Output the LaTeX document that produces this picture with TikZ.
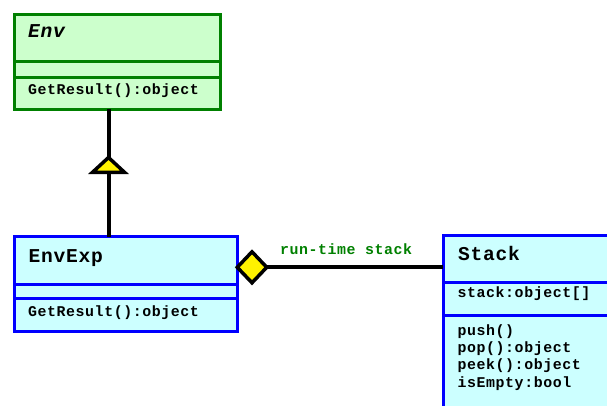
\documentclass[tikz,border=0pt]{standalone}
\usepackage{fontspec}
\setmonofont{Liberation Mono}
\newfontfamily\membermono[LetterSpace=3.8]{Liberation Mono}
\usetikzlibrary{shapes.geometric}

\definecolor{envgreen}{RGB}{0,128,0}
\definecolor{envgreenfill}{RGB}{204,255,204}
\definecolor{expblue}{RGB}{0,0,255}
\definecolor{expbluefill}{RGB}{204,255,255}

\tikzset{
  classbox/.style={draw, line width=3pt, inner sep=0pt, outer sep=0pt, anchor=north west},
  greenbox/.style={classbox, draw=envgreen, fill=envgreenfill},
  bluebox/.style={classbox, draw=expblue, fill=expbluefill},
  classname/.style={inner sep=0pt, anchor=base west, font=\membermono\bfseries\fontsize{19.6}{22}\selectfont},
  member/.style={inner sep=0pt, anchor=base west, font=\membermono\bfseries\fontsize{14.9}{17.4}\selectfont},
  assoc/.style={line width=4pt, draw=black},
  marker/.style={draw=black, fill=yellow, line width=3.5pt, line join=miter},
}

\begin{document}
\begin{tikzpicture}[x=1pt, y=-1pt]
  \path[use as bounding box] (0,0) rectangle (607,406);
  \clip (0,0) rectangle (607,406);

  % Env (abstract base)
  \node[greenbox, minimum width=206.3pt, minimum height=95.1pt] (env) at (14.2,14.2) {};
  \draw[envgreen, line width=3pt] (env.west |- 0,61.5) -- (env.east |- 0,61.5);
  \draw[envgreen, line width=3pt] (env.west |- 0,77.3) -- (env.east |- 0,77.3);
  \node[classname] (envname) at (28,37.3) {\textit{Env}};
  \node[member] (envop) at (28,94.3) {GetResult():object};

  % EnvExp
  \node[bluebox, minimum width=223pt, minimum height=94.7pt] (envexp) at (14.2,236.5) {};
  \draw[expblue, line width=3pt] (envexp.west |- 0,284) -- (envexp.east |- 0,284);
  \draw[expblue, line width=3pt] (envexp.west |- 0,298.7) -- (envexp.east |- 0,298.7);
  \node[classname] (expname) at (28.5,262.3) {EnvExp};
  \node[member] (expop) at (28,316.9) {GetResult():object};

  % Stack (runs past the right and lower edges)
  \node[bluebox, minimum width=220pt, minimum height=200pt] (stack) at (443.3,235) {};
  \draw[expblue, line width=3pt] (stack.west |- 0,282.7) -- (stack.east |- 0,282.7);
  \draw[expblue, line width=3pt] (stack.west |- 0,315) -- (stack.east |- 0,315);
  \node[classname] (stackname) at (458,260.7) {Stack};
  \node[member] (stackattr) at (457.5,297.7) {stack:object[]};
  \node[member] (push) at (457.5,335) {push()};
  \node[member] (pop) at (457.5,352.4) {pop():object};
  \node[member] (peek) at (457.5,369.8) {peek():object};
  \node[member] (isempty) at (457.5,387.2) {isEmpty:bool};

  % generalisation: EnvExp -> Env
  \coordinate (apex) at (108.5,157.5);
  \coordinate (tribase) at (108.5,172.3);
  \draw[assoc] (env.south -| apex) -- (apex);
  \draw[assoc] (tribase) -- (envexp.north -| tribase);
  \draw[marker] (apex) -- ([xshift=16pt]tribase) -- ([xshift=-16pt]tribase) -- cycle;

  % aggregation: EnvExp <>-- Stack
  \node[diamond, marker, minimum width=29.5pt, minimum height=31pt, inner sep=0pt, outer sep=0pt]
    (agg) at (252,267.3) {};
  \draw[assoc] (agg.east) -- (agg.east -| stack.west);
  \node[member, text=envgreen] (assoclabel) at (280,254) {run-time stack};
\end{tikzpicture}
\end{document}
